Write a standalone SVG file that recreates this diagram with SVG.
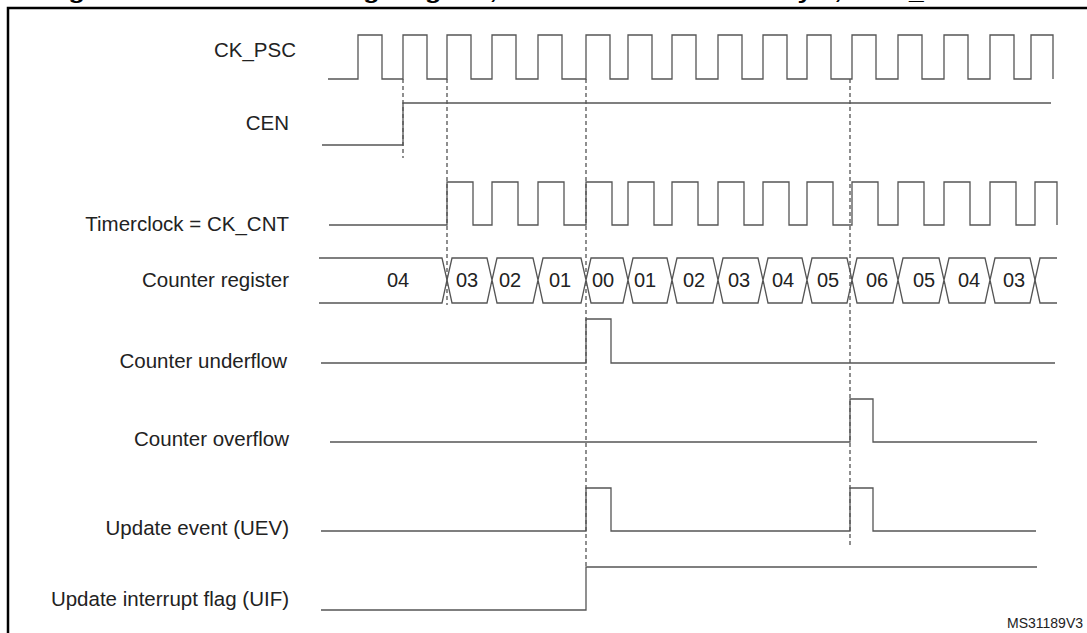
<svg xmlns="http://www.w3.org/2000/svg" width="1087" height="633" viewBox="0 0 1087 633">
<style>
.w{fill:none;stroke:#555;stroke-width:1.3}
.d{fill:none;stroke:#333;stroke-width:1.1;stroke-dasharray:4 3}
.l{font-family:"Liberation Sans",Arial,sans-serif;font-size:20.5px;fill:#222;text-anchor:end}
.n{font-family:"Liberation Sans",Arial,sans-serif;font-size:20px;fill:#222;text-anchor:middle}
</style>
<rect width="1087" height="633" fill="#fff"/>
<text x="45" y="-1" font-family="Liberation Sans,Arial,sans-serif" font-weight="bold" font-size="20" textLength="1010" lengthAdjust="spacingAndGlyphs" fill="#000">Figure 104. Counter timing diagram, internal clock divided by 1, TIMx_ARR = 0x6</text>
<rect x="8" y="8" width="1090" height="640" fill="none" stroke="#000" stroke-width="2.5"/>
<g id="labels">
<text class="l" x="296" y="57">CK_PSC</text>
<text class="l" x="289" y="130">CEN</text>
<text class="l" x="289" y="231">Timerclock = CK_CNT</text>
<text class="l" x="289" y="287">Counter register</text>
<text class="l" x="287" y="368">Counter underflow</text>
<text class="l" x="289" y="446">Counter overflow</text>
<text class="l" x="289" y="535">Update event (UEV)</text>
<text class="l" x="289" y="606">Update interrupt flag (UIF)</text>
<text x="1083" y="628" font-family="Liberation Sans,Arial,sans-serif" font-size="14" fill="#222" text-anchor="end">MS31189V3</text>
</g>
<g id="connectors">
<path class="d" d="M403 79V158M447 79V305M586 79V567M850 79V545"/>
</g>
<g id="ck_psc">
<path class="w" d="M328 79H358V35H382V79H403V35H427V79H447V35H471V79H492V35H516V79H538V35H562V79H586V35H610V79H628V35H652V79H672V35H696V79H718V35H742V79H763V35H787V79H807V35H831V79H852V35H876V79H898V35H922V79H944V35H968V79H990V35H1014V79H1031V35H1053V79"/>
</g>
<g id="cen"><path class="w" d="M322 145H403V103H1051"/></g>
<g id="timerclock">
<path class="w" d="M329 225H447V182H473V225H492V182H518V225H538V182H564V225H586V182H612V225H628V182H654V225H672V182H698V225H718V182H744V225H763V182H789V225H807V182H833V225H852V182H878V225H898V182H924V225H944V182H970V225H990V182H1016V225H1035V182H1057V225"/>
</g>
<g id="counter">
<path class="w" d="M319 258H442L447 280L442 303H319"/>
<path class="w" d="M447 280L452 258H487L492 280L487 303H452Z M492 280L497 258H533L538 280L533 303H497Z M538 280L543 258H581L586 280L581 303H543Z M586 280L591 258H623L628 280L623 303H591Z M628 280L633 258H667L672 280L667 303H633Z M672 280L677 258H713L718 280L713 303H677Z M718 280L723 258H758L763 280L758 303H723Z M763 280L768 258H802L807 280L802 303H768Z M807 280L812 258H847L852 280L847 303H812Z M852 280L857 258H893L898 280L893 303H857Z M898 280L903 258H939L944 280L939 303H903Z M944 280L949 258H985L990 280L985 303H949Z M990 280L995 258H1030L1035 280L1030 303H995Z"/>
<path class="w" d="M1035 280L1040 258H1057M1035 280L1040 303H1057"/>
<text class="n" x="398" y="287">04</text>
<text class="n" x="467" y="287">03</text>
<text class="n" x="510" y="287">02</text>
<text class="n" x="560" y="287">01</text>
<text class="n" x="603" y="287">00</text>
<text class="n" x="645" y="287">01</text>
<text class="n" x="694" y="287">02</text>
<text class="n" x="739" y="287">03</text>
<text class="n" x="783" y="287">04</text>
<text class="n" x="828" y="287">05</text>
<text class="n" x="877" y="287">06</text>
<text class="n" x="924" y="287">05</text>
<text class="n" x="969" y="287">04</text>
<text class="n" x="1014" y="287">03</text>
</g>
<g id="underflow"><path class="w" d="M321 363H586V319H611V363H1055"/></g>
<g id="overflow"><path class="w" d="M330 442H850V399H873V442H1037"/></g>
<g id="uev"><path class="w" d="M321 531H586V488H611V531H850V488H873V531H1036"/></g>
<g id="uif"><path class="w" d="M321 610H586V567H1037"/></g>
</svg>
